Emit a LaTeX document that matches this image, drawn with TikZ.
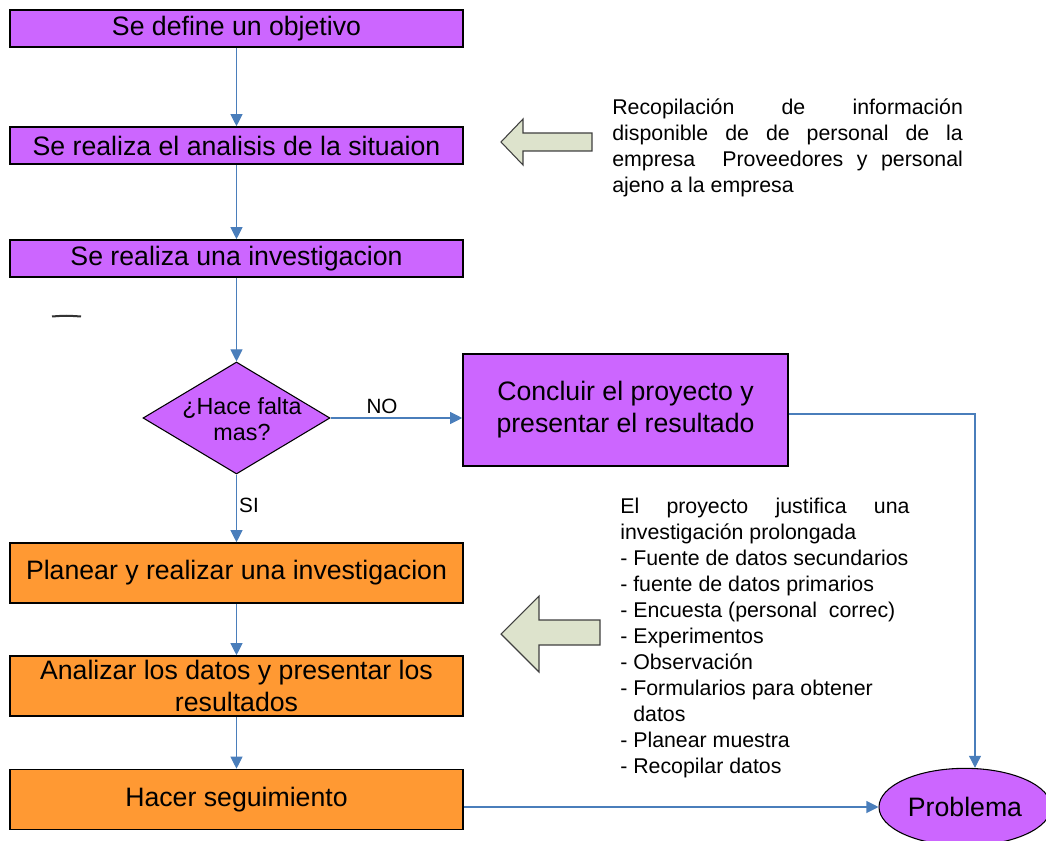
\documentclass[tikz,border=0pt]{standalone}
\usepackage{fontspec}
\setmainfont{Liberation Sans}
\usetikzlibrary{arrows.meta,shapes.geometric}
\definecolor{boxpurple}{HTML}{CC66FF}
\definecolor{boxorange}{HTML}{FF9933}
\definecolor{flowblue}{HTML}{4A7EBB}
\definecolor{notegreen}{HTML}{DDE3CC}

\begin{document}
\begin{tikzpicture}[x=0.75pt, y=-0.75pt, >={Triangle[length=9pt,width=9pt]},
  stepbox/.style={draw=black, line width=1.2pt, minimum width=339.75pt,
    minimum height=27.75pt, inner sep=0pt, align=center,
    font=\fontsize{20}{24}\selectfont},
  purplebox/.style={stepbox, fill=boxpurple},
  orangebox/.style={stepbox, fill=boxorange, minimum height=45pt},
  decision/.style={diamond, draw=black, line width=0.8pt, fill=boxpurple,
    inner sep=0pt, minimum width=140.25pt, minimum height=84pt},
  flow/.style={->, draw=flowblue, line width=0.8pt},
  note/.style={anchor=north west, inner sep=0pt, align=left,
    font=\fontsize{16}{19.5}\selectfont},
  bigarrow/.style={fill=notegreen, draw=black!75, line width=0.8pt}]
  \useasboundingbox (0,0) rectangle (1046,841);

  % ---------------- main column ----------------
  \node[purplebox] (goal) at (236.5,28.5) {Se define un objetivo};
  \node[purplebox] (situ) at (236.5,145.5) {Se realiza el analisis de la situaion};
  \node[purplebox] (inv) at (236.5,258.5) {Se realiza una investigacion};
  \node[decision] (ask) at (236.5,418) {};
  \node[font=\fontsize{17.5}{19}\selectfont, align=center] (asktxt) at (242,419)
    {¿Hace falta\\mas?};
  \node[purplebox, minimum width=243.75pt, minimum height=84pt] (concl) at (625.5,410)
    {Concluir el proyecto y\\presentar el resultado};
  \node[orangebox] (plan) at (236.5,573) {Planear y realizar una investigacion};
  \node[orangebox] (anal) at (236.5,686) {Analizar los datos y presentar los\\resultados};
  \node[orangebox] (follow) at (236.5,799.5) {Hacer seguimiento};
  \node[ellipse, draw=black, line width=0.8pt, fill=boxpurple, inner sep=0pt,
    minimum width=129pt, minimum height=58pt, font=\fontsize{20}{24}\selectfont]
    (prob) at (965,807) {Problema};

  % ---------------- connectors ----------------
  \draw[flow] (goal) -- (situ);
  \draw[flow] (situ) -- (inv);
  \draw[flow] (inv) -- (ask);
  \draw[flow] (ask.east) -- (ask.east -| concl.west);
  \node[font=\fontsize{15.5}{18}\selectfont] (no) at (382,406) {NO};
  \draw[flow] (ask) -- (plan);
  \node[font=\fontsize{15.5}{18}\selectfont] (si) at (249,505) {SI};
  \draw[flow] (plan) -- (anal);
  \draw[flow] (anal) -- (follow);
  \draw[flow] (follow.east |- prob.west) -- (prob.west);
  \draw[flow] ([yshift=-3pt]concl.east) -| ([xshift=7.5pt]prob.north);

  % ---------------- side notes ----------------
  \draw[bigarrow] (501,142) -- (523,119) -- (523,133) -- (592,133)
    -- (592,151) -- (523,151) -- (523,165) -- cycle;
  \node[note] (info) at (612,99)
    {\makebox[263pt][s]{Recopilación de información}\\
     \makebox[263pt][s]{disponible de de personal de la}\\
     \makebox[263pt][s]{empresa\ \ Proveedores y personal}\\
     ajeno a la empresa};
  \draw[bigarrow] (501,634) -- (539,596) -- (539,620) -- (600,620)
    -- (600,645) -- (539,645) -- (539,672) -- cycle;
  \node[note] (just) at (620,498)
    {\makebox[217pt][s]{El proyecto justifica una}\\
     investigación prolongada\\
     - Fuente de datos secundarios\\
     - fuente de datos primarios\\
     - Encuesta (personal\ \ correc)\\
     - Experimentos\\
     - Observación\\
     - Formularios para obtener\\
     \hspace*{9.8pt}datos\\
     - Planear muestra\\
     - Recopilar datos};

  % stray mark left of the diamond
  \draw[black!80, line width=1.5pt] (52,316.5) .. controls (66,315.5) .. (81,316.5);
\end{tikzpicture}
\end{document}
